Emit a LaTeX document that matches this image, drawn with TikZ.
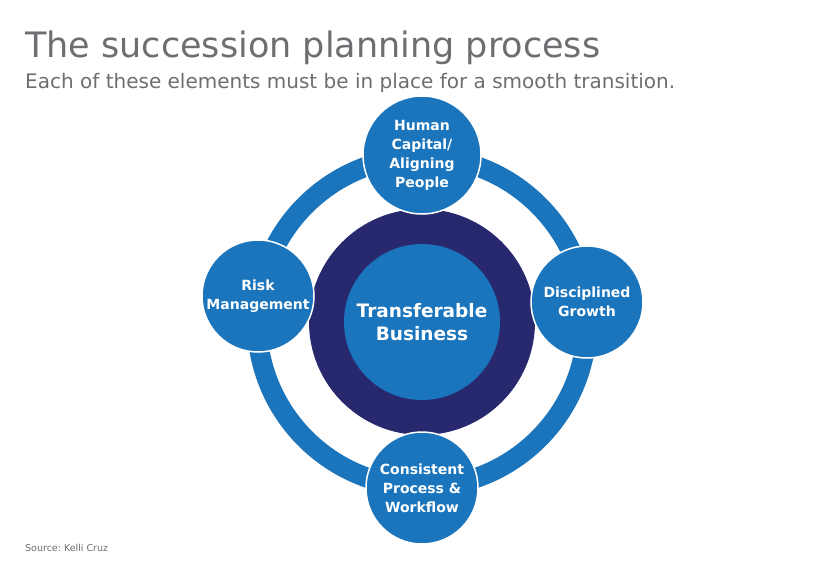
\documentclass[tikz,border=0pt]{standalone}
\usepackage{fontspec}
\setmainfont{DejaVu Sans}
\definecolor{ringblue}{HTML}{1B75BC}
\definecolor{navy}{HTML}{28286F}
\definecolor{titlegray}{HTML}{6D6E71}
\tikzset{
  element/.style={circle, fill=ringblue, draw=white, line width=1.5pt, minimum size=#1, inner sep=0,
    align=center, text=white, font=\fontsize{14}{19}\selectfont\bfseries},
  element/.default=112pt
}
\begin{document}
\begin{tikzpicture}[x=1pt, y=-1pt]
    \useasboundingbox (0,0) rectangle (840,570);
    % titles
    \node[anchor=base west, text=titlegray, font=\fontsize{35}{38}\selectfont, inner sep=0] (title) at (25,57) {The succession planning process};
    \node[anchor=base west, text=titlegray, font=\fontsize{20}{22}\selectfont, inner sep=0] (subtitle) at (25,88) {Each of these elements must be in place for a smooth transition.};
    \node[anchor=base west, text=titlegray, font=\fontsize{9.5}{11}\selectfont, inner sep=0] (source) at (25,551) {Source:\ Kelli Cruz};
    % ring
    \coordinate (c) at (422,322);
    \draw[ringblue, line width=20pt] (c) circle[radius=165];
    \node[circle, fill=navy, minimum size=226pt, inner sep=0] (hub) at (c) {};
    \node[circle, fill=ringblue, minimum size=156pt, inner sep=0, text=white, align=center,
      font=\fontsize{18.5}{23}\selectfont\bfseries] (core) at (c) {Transferable\\Business};
    % elements
    \node[element=118pt] (human) at (422,155) {Human\\Capital/\\Aligning\\People};
    \node[element] (growth) at (587,302) {Disciplined\\Growth};
    \node[element] (process) at (422,488) {Consistent\\Process \&\\Workflow};
    \node[element] (risk) at (258,296) {Risk\\Management};
\end{tikzpicture}
\end{document}
